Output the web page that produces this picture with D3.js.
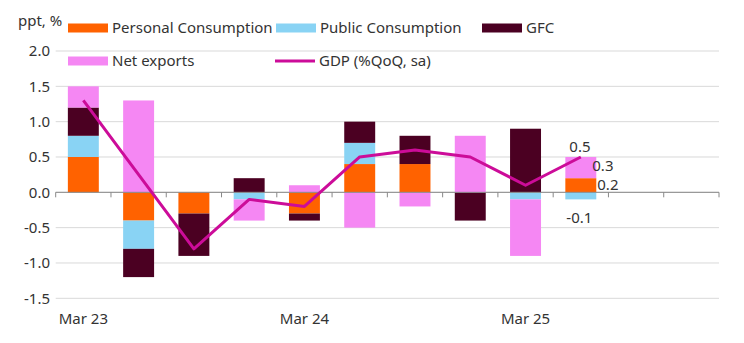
<!DOCTYPE html>
<html>
<head>
<meta charset="utf-8">
<script src="https://cdn.jsdelivr.net/npm/d3@7"></script>
<style>
  body { margin: 0; background: #fff; }
  svg { font-family: "Noto Sans", sans-serif; }
  text { fill: #333; }
</style>
</head>
<body>
<svg id="chart"></svg>
<script>
var width = 744
var height = 343

// quarters, Mar 23 .. Dec 25
var quarters = ["Mar 23","Jun 23","Sep 23","Dec 23","Mar 24","Jun 24","Sep 24","Dec 24","Mar 25","Jun 25","Sep 25","Dec 25"]
var tickLabels = ["Mar 23","Mar 24","Mar 25"]

var personal = [0.5, -0.4, -0.3, 0, -0.3, 0.4, 0.4, 0, 0, 0.2]
var publicC  = [0.3, -0.4, 0, -0.1, 0, 0.3, 0, 0, -0.1, -0.1]
var gfc      = [0.4, -0.4, -0.6, 0.2, -0.1, 0.3, 0.4, -0.4, 0.9, 0]
var netExp   = [0.3, 1.3, 0, -0.3, 0.1, -0.5, -0.2, 0.8, -0.8, 0.3]
var gdp      = [1.3, 0.25, -0.8, -0.1, -0.2, 0.5, 0.6, 0.5, 0.1, 0.5]

var yTicks = [2.0, 1.5, 1.0, 0.5, 0.0, -0.5, -1.0, -1.5]

var series = [
  {name: "Personal Consumption", values: personal, color: "#ff6200"},
  {name: "Public Consumption", values: publicC, color: "#89d3f4"},
  {name: "GFC", values: gfc, color: "#4b0022"},
  {name: "Net exports", values: netExp, color: "#f587f3"}
]
var lineColor = "#cc0c99"

var svg = d3.select("#chart")
    .attr("width", width)
    .attr("height", height)

var x = d3.scaleBand()
    .domain(quarters)
    .range([55.7, 719])
    .paddingInner(0.44)
    .paddingOuter(0.22)

var y = d3.scaleLinear()
    .domain([-1.5, 2.0])
    .range([298.3, 51])

// gridlines
svg.append("g")
  .selectAll("line")
  .data(yTicks)
  .enter()
  .append("line")
  .attr("x1", 55.7)
  .attr("x2", 719)
  .attr("y1", d => y(d))
  .attr("y2", d => y(d))
  .attr("stroke", "#d9d9d9")
  .attr("stroke-width", 1)

// y labels
svg.append("g")
  .selectAll("text")
  .data(yTicks)
  .enter()
  .append("text")
  .attr("x", 50)
  .attr("y", d => y(d))
  .attr("dy", "0.35em")
  .attr("text-anchor", "end")
  .style("font-size", "15px")
  .text(d => d.toFixed(1))

svg.append("text")
  .attr("x", 18)
  .attr("y", 26)
  .style("font-size", "15px")
  .text("ppt, %")

// stacked bars (positives up, negatives down)
var stacks = []
quarters.forEach(function(q, i) {
  var pos = 0, neg = 0
  series.forEach(function(s) {
    var v = s.values[i]
    if (v === undefined || v === 0) return
    var y0, y1
    if (v > 0) { y0 = pos; y1 = pos + v; pos = y1 }
    else { y0 = neg; y1 = neg + v; neg = y1 }
    stacks.push({q: q, y0: y0, y1: y1, color: s.color})
  })
})

svg.append("g")
  .selectAll("rect")
  .data(stacks)
  .enter()
  .append("rect")
  .attr("x", d => x(d.q))
  .attr("width", x.bandwidth())
  .attr("y", d => y(Math.max(d.y0, d.y1)))
  .attr("height", d => Math.abs(y(d.y0) - y(d.y1)))
  .attr("fill", d => d.color)

// zero axis with ticks
var step = x.step()
var tickPos = d3.range(quarters.length + 1).map(i => 55.7 + i * step)
svg.append("line")
  .attr("x1", 55.7)
  .attr("x2", 719)
  .attr("y1", y(0))
  .attr("y2", y(0))
  .attr("stroke", "#888")
  .attr("stroke-width", 1)
svg.append("g")
  .selectAll("line")
  .data(tickPos)
  .enter()
  .append("line")
  .attr("x1", d => d)
  .attr("x2", d => d)
  .attr("y1", y(0))
  .attr("y2", y(0) + 5)
  .attr("stroke", "#888")

// x labels
svg.append("g")
  .selectAll("text")
  .data(tickLabels)
  .enter()
  .append("text")
  .attr("x", d => x(d) + x.bandwidth() / 2)
  .attr("y", 324)
  .attr("text-anchor", "middle")
  .style("font-size", "15px")
  .text(d => d)

// GDP line
var line = d3.line()
    .x((d, i) => x(quarters[i]) + x.bandwidth() / 2)
    .y(d => y(d))

svg.append("path")
  .datum(gdp)
  .attr("d", line)
  .attr("fill", "none")
  .attr("stroke", lineColor)
  .attr("stroke-width", 3)
  .attr("stroke-linejoin", "round")

// labels for latest quarter
var last = gdp.length - 1
var lx = x(quarters[last])
var bw = x.bandwidth()
var lastLabels = [
  {t: "0.5", x: lx + 4, y: y(gdp[last]) - 10},
  {t: "0.3", x: lx + bw - 4, y: y(personal[last] + netExp[last]) + 9},
  {t: "0.2", x: lx + bw + 1, y: y(personal[last]) + 7},
  {t: "-0.1", x: lx + 1, y: y(publicC[last]) + 18}
]
svg.append("g")
  .selectAll("text")
  .data(lastLabels)
  .enter()
  .append("text")
  .attr("x", d => d.x)
  .attr("y", d => d.y)
  .attr("dy", "0.35em")
  .style("font-size", "15px")
  .text(d => d.t)

// legend
var legend = [
  {name: "Personal Consumption", color: series[0].color, x: 68, y: 28, type: "rect"},
  {name: "Public Consumption", color: series[1].color, x: 276, y: 28, type: "rect"},
  {name: "GFC", color: series[2].color, x: 482, y: 28, type: "rect"},
  {name: "Net exports", color: series[3].color, x: 68, y: 61, type: "rect"},
  {name: "GDP (%QoQ, sa)", color: lineColor, x: 275, y: 61, type: "line"}
]
var lg = svg.append("g")
  .selectAll("g")
  .data(legend)
  .enter()
  .append("g")
  .attr("transform", d => "translate(" + d.x + "," + d.y + ")")

lg.filter(d => d.type === "rect")
  .append("rect")
  .attr("x", 0)
  .attr("y", -4.5)
  .attr("width", 40)
  .attr("height", 9)
  .attr("fill", d => d.color)

lg.filter(d => d.type === "line")
  .append("line")
  .attr("x1", 0)
  .attr("x2", 40)
  .attr("stroke", d => d.color)
  .attr("stroke-width", 3)

lg.append("text")
  .attr("x", 44)
  .attr("dy", "0.35em")
  .style("font-size", "15px")
  .text(d => d.name)
</script>
</body>
</html>
